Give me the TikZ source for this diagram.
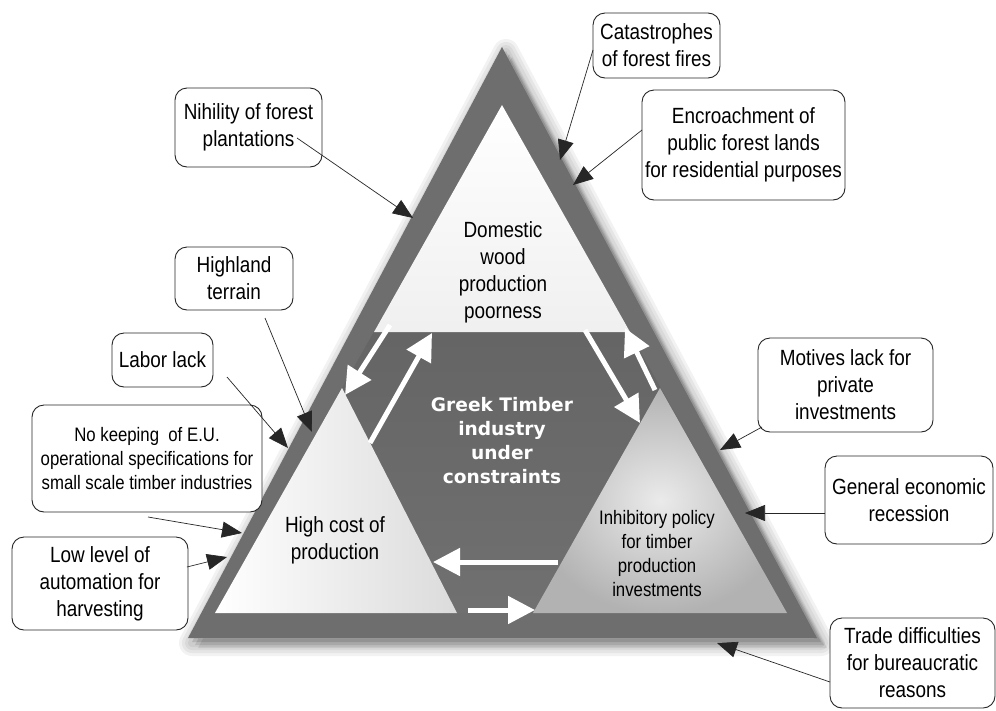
\documentclass[tikz,border=0pt]{standalone}
\usepackage{fontspec}
\newfontfamily\boxfont{Liberation Sans}[FakeStretch=0.86]
\newfontfamily\ctrfont{DejaVu Sans}
\usetikzlibrary{arrows.meta,calc}
\definecolor{bordergray}{HTML}{6E6E6E}
\definecolor{centergray}{HTML}{666666}
\begin{document}
\begin{tikzpicture}[x=1pt,y=-1pt,
  box/.style={draw=black!85, line width=0.9pt, rounded corners=12pt, fill=white, align=center, inner sep=0pt,
     font=\boxfont\fontsize{22}{27}\selectfont},
  smallbox/.style={box, font=\boxfont\fontsize{19.5}{24}\selectfont},
  label/.style={align=center, inner sep=0pt, font=\boxfont\fontsize{22}{27}\selectfont},
  cause/.style={draw=black!85, line width=0.7pt, -{Triangle[length=20pt,width=16pt]}},
  flow/.style={draw=white, line width=5pt, -{Triangle[length=27pt,width=27pt]}}]
\useasboundingbox (0,0) rectangle (996,710);
\fill[white] (0,0) rectangle (996,710);
% soft shadow of the big triangle
\foreach \w in {26,20,14,8}{
  \draw[black,opacity=0.05,line width=\w pt,line join=round,xshift=4pt,yshift=-5pt] (502,47) -- (188,638) -- (817,638) -- cycle;}
\foreach \s/\o in {10/0.08,7/0.1,4/0.12}{
  \fill[black,opacity=\o,xshift=\s pt,yshift=-\s pt] (502,47) -- (188,638) -- (817,638) -- cycle;}
% outer border
\fill[bordergray] (502,47) -- (188,638) -- (817,638) -- cycle;
% dark centre
\shade[top color=black!64, bottom color=black!56] (502,105) -- (215,613) -- (787,613) -- cycle;
% top sub-triangle
\shade[top color=white, bottom color=black!6] (502,105) -- (374,332) -- (630,332) -- cycle;
% left sub-triangle
\shade[left color=white, right color=black!14] (342,388) -- (215,613) -- (457,613) -- cycle;
% right sub-triangle
\shade[inner color=black!8, outer color=black!30] (660,388) -- (533,613) -- (787,613) -- cycle;
% texts of the triangles
\node[label] (dom) at (503,272) {Domestic\\wood\\production\\poorness};
\node[label] (high) at (335,540) {High cost of\\production};
\node[label, font=\boxfont\fontsize{19.5}{24}\selectfont] (inh) at (657,554) {Inhibitory policy\\for timber\\production\\investments};
\node[align=center, inner sep=0pt, text=white, font=\ctrfont\bfseries\fontsize{18.6}{24}\selectfont] (ctr) at (502,441)
  {Greek Timber\\industry\\under\\constraints};
% white flow arrows
\coordinate (f1s) at (390,325); \coordinate (f1e) at (345,395);
\coordinate (f2s) at (370,443); \coordinate (f2e) at (432,333);
\coordinate (f3s) at (585,330); \coordinate (f3e) at (640,423);
\coordinate (f4s) at (655,390); \coordinate (f4e) at (625,328);
\coordinate (f5s) at (558,562); \coordinate (f5e) at (433,562);
\coordinate (f6s) at (468,610); \coordinate (f6e) at (535,610);
\draw[flow] (f1s) -- (f1e);
\draw[flow] (f2s) -- (f2e);
\draw[flow] (f3s) -- (f3e);
\draw[flow] (f4s) -- (f4e);
\draw[flow] (f5s) -- (f5e);
\draw[flow] (f6s) -- (f6e);
% boxes
\node[box, minimum width=127, minimum height=65] (catas) at (656.5,45.5) {Catastrophes\\of forest fires};
\node[box, minimum width=203, minimum height=110] (encr) at (743.5,145) {Encroachment of\\public forest lands\\for residential purposes};
\node[box, minimum width=147, minimum height=79] (nih) at (248.5,127.5) {Nihility of forest\\plantations};
\node[box, minimum width=118, minimum height=63] (hig) at (234,278.5) {Highland\\terrain};
\node[box, minimum width=101, minimum height=54] (lab) at (162.5,360) {Labor lack};
\node[smallbox, minimum width=230, minimum height=107] (nok) at (147,458.5) {No keeping\ \ of E.U.\\operational specifications for\\small scale timber industries};
\node[box, minimum width=176, minimum height=93] (low) at (100,583.5) {Low level of\\automation for\\harvesting};
\node[box, minimum width=175, minimum height=94] (mot) at (845.5,385) {Motives lack for\\private\\investments};
\node[box, minimum width=168, minimum height=88] (gen) at (909,500) {General economic\\recession};
\node[box, minimum width=165, minimum height=90] (tra) at (912.5,663) {Trade difficulties\\for bureaucratic\\reasons};
% cause arrows
\coordinate (catasS) at (593,50);  \coordinate (catasT) at (560,160);
\coordinate (encrS) at (642,130);  \coordinate (encrT) at (573,185);
\coordinate (nihS) at (297,138);   \coordinate (nihT) at (413,218);
\coordinate (higS) at (265,318);   \coordinate (higT) at (312,432);
\coordinate (labS) at (227,377);   \coordinate (labT) at (288,448);
\coordinate (nokS) at (148,517);   \coordinate (nokT) at (242,533);
\coordinate (lowS) at (187,567);   \coordinate (lowT) at (227,557);
\coordinate (motS) at (762,427);   \coordinate (motT) at (720,450);
\coordinate (genS) at (825,513);   \coordinate (genT) at (745,513);
\coordinate (traS) at (830,682);   \coordinate (traT) at (717,643);
\draw[cause] (catasS) -- (catasT);
\draw[cause] (encrS) -- (encrT);
\draw[cause] (nihS) -- (nihT);
\draw[cause] (higS) -- (higT);
\draw[cause] (labS) -- (labT);
\draw[cause] (nokS) -- (nokT);
\draw[cause] (lowS) -- (lowT);
\draw[cause] (motS) -- (motT);
\draw[cause] (genS) -- (genT);
\draw[cause] (traS) -- (traT);
\end{tikzpicture}
\end{document}
